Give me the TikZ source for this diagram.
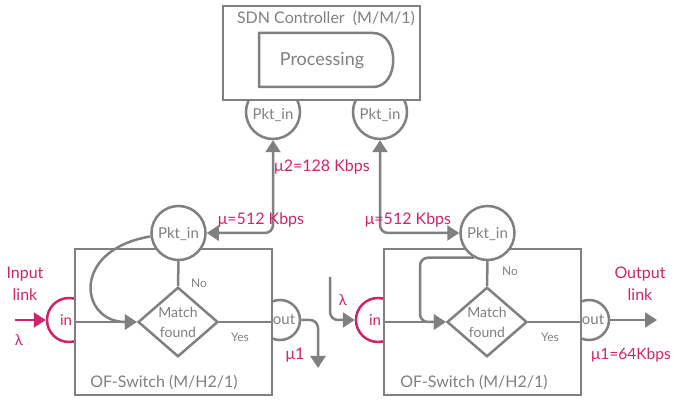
\documentclass[tikz,border=0pt]{standalone}
\usepackage{fontspec}
\setmainfont{Lato}
\usetikzlibrary{arrows.meta,shapes.geometric}
\definecolor{gr}{HTML}{808080}
\definecolor{pk}{HTML}{D0246A}
\newcommand{\fs}[2]{\fontsize{#1}{#2}\selectfont}
\begin{document}
\begin{tikzpicture}[x=1pt,y=-1pt,
  line/.style={draw=gr,line width=2.5pt},
  pline/.style={draw=pk,line width=2.5pt},
  tip/.style={-{Triangle[length=12pt,width=15pt]}},
  btips/.style={{Triangle[length=12pt,width=15pt]}-{Triangle[length=12pt,width=15pt]}},
  circ/.style={circle,draw=gr,line width=2.5pt,fill=white,minimum size=54pt,inner sep=0pt},
  box/.style={rectangle,draw=gr,line width=2.5pt,fill=white,inner sep=0pt},
  dia/.style={diamond,draw=gr,line width=2.5pt,fill=white,minimum width=80pt,minimum height=67pt,inner sep=0pt,align=center,text=gr,font=\fs{14}{20}},
  gtxt/.style={text=gr,inner sep=0pt,align=center},
  ptxt/.style={text=pk,inner sep=0pt,align=center}
]
\useasboundingbox (0,0) rectangle (673,403);

% ---------- controller ----------
\node[circ] (c1) at (273,112) {};
\node[circ] (c2) at (380,112) {};
\node[box,minimum width=197pt,minimum height=94pt] (ctrl) at (321.5,53) {};
\node[gtxt,font=\fs{16}{19}] (ctitle) at (326,18) {SDN Controller\ \ (M/M/1)};
\draw[line] (259,33) -- (373,33) .. controls (400,33) and (400,87) .. (373,87) -- (259,87) -- cycle;
\node[gtxt,font=\fs{18}{22}] (proc) at (322,61) {Processing};
\node[gtxt,font=\fs{15}{18}] (c1t) at (273,115) {Pkt\_in};
\node[gtxt,font=\fs{15}{18}] (c2t) at (380,115) {Pkt\_in};

% ---------- switch 1 ----------
\node[circ,draw=pk,minimum size=44pt] (in1) at (69,320) {};
\node[circ,minimum size=40pt] (out1) at (280,320) {};
\node[box,minimum width=197pt,minimum height=146pt] (sw1) at (173.5,322) {};
\node[circ] (p1) at (178.5,233) {};
\node[gtxt,font=\fs{15}{18}] (p1t) at (178.5,234) {Pkt\_in};
\node[dia] (d1) at (178,322) {Match\\found};
\node[ptxt,font=\fs{15}{18}] (in1t) at (66,320) {in};
\node[gtxt,font=\fs{15}{18}] (out1t) at (284,320) {out};

\draw[line,tip] (sw1.west |- d1.west) -- (d1.west);
\draw[line] (d1.east) -- (sw1.east |- d1.east);
\draw[line] (p1.south) -- (d1.north);
\draw[line,tip] (p1.187) .. controls (70,250) and (80,322) .. (d1.west);
\coordinate (inp1) at (15,320);
\draw[pline,tip] (inp1) -- (in1.west);
\coordinate (o1) at (318,368);
\draw[line,tip,rounded corners=8pt] (out1.east) -| (o1);
\draw[line,btips,rounded corners=8pt] (c1.south) |- (p1.east);

\node[gtxt,font=\fs{12}{14}] (no1) at (199,283) {No};
\node[gtxt,font=\fs{12}{14}] (yes1) at (240,337) {Yes};
\node[gtxt,font=\fs{16}{19}] (sw1t) at (164,382) {OF-Switch (M/H2/1)};
\node[ptxt,font=\fs{16}{22}] (inl) at (25,284) {Input\\link};
\node[ptxt,font=\fs{15}{18}] (lam1) at (19,340) {λ};
\node[ptxt,font=\fs{16}{19}] (mu1) at (295,355) {μ1};

% ---------- switch 2 ----------
\node[circ,draw=pk,minimum size=44pt] (in2) at (378,320) {};
\node[circ,minimum size=40pt] (out2) at (589,320) {};
\node[box,minimum width=197pt,minimum height=146pt] (sw2) at (482.5,322) {};
\node[circ] (p2) at (487.5,233) {};
\node[gtxt,font=\fs{15}{18}] (p2t) at (487.5,234) {Pkt\_in};
\node[dia] (d2) at (487,322) {Match\\found};
\node[ptxt,font=\fs{15}{18}] (in2t) at (375,320) {in};
\node[gtxt,font=\fs{15}{18}] (out2t) at (593,320) {out};

\draw[line,tip] (sw2.west |- d2.west) -- (d2.west);
\draw[line] (d2.east) -- (sw2.east |- d2.east);
\draw[line] (p2.south) -- (d2.north);
\coordinate (lp2) at (420,322);
\draw[line,tip,rounded corners=8pt] (p2.241) -| (lp2) -- (d2.west);
\coordinate (lam2c) at (330,277);
\draw[line,tip,rounded corners=8pt] (lam2c) |- (in2.west);
\coordinate (o2) at (657,320);
\draw[line,tip] (out2.east) -- (o2);
\draw[line,btips,rounded corners=8pt] (c2.south) |- (p2.west);

\node[gtxt,font=\fs{12}{14}] (no2) at (510,271) {No};
\node[gtxt,font=\fs{12}{14}] (yes2) at (550,337) {Yes};
\node[gtxt,font=\fs{16}{19}] (sw2t) at (474,382) {OF-Switch (M/H2/1)};
\node[ptxt,font=\fs{16}{22}] (outl) at (640,284) {Output\\link};
\node[ptxt,font=\fs{15}{18}] (lam2) at (343,300) {λ};
\node[ptxt,font=\fs{15.5}{19},anchor=west] (mu2) at (591,355) {μ1=64Kbps};

% ---------- link labels ----------
\node[ptxt,font=\fs{16}{19},anchor=west] (mu128) at (274,167) {μ2=128 Kbps};
\node[ptxt,font=\fs{16}{19}] (mu512a) at (261,220) {μ=512 Kbps};
\node[ptxt,font=\fs{16}{19}] (mu512b) at (408,220) {μ=512 Kbps};
\end{tikzpicture}
\end{document}
